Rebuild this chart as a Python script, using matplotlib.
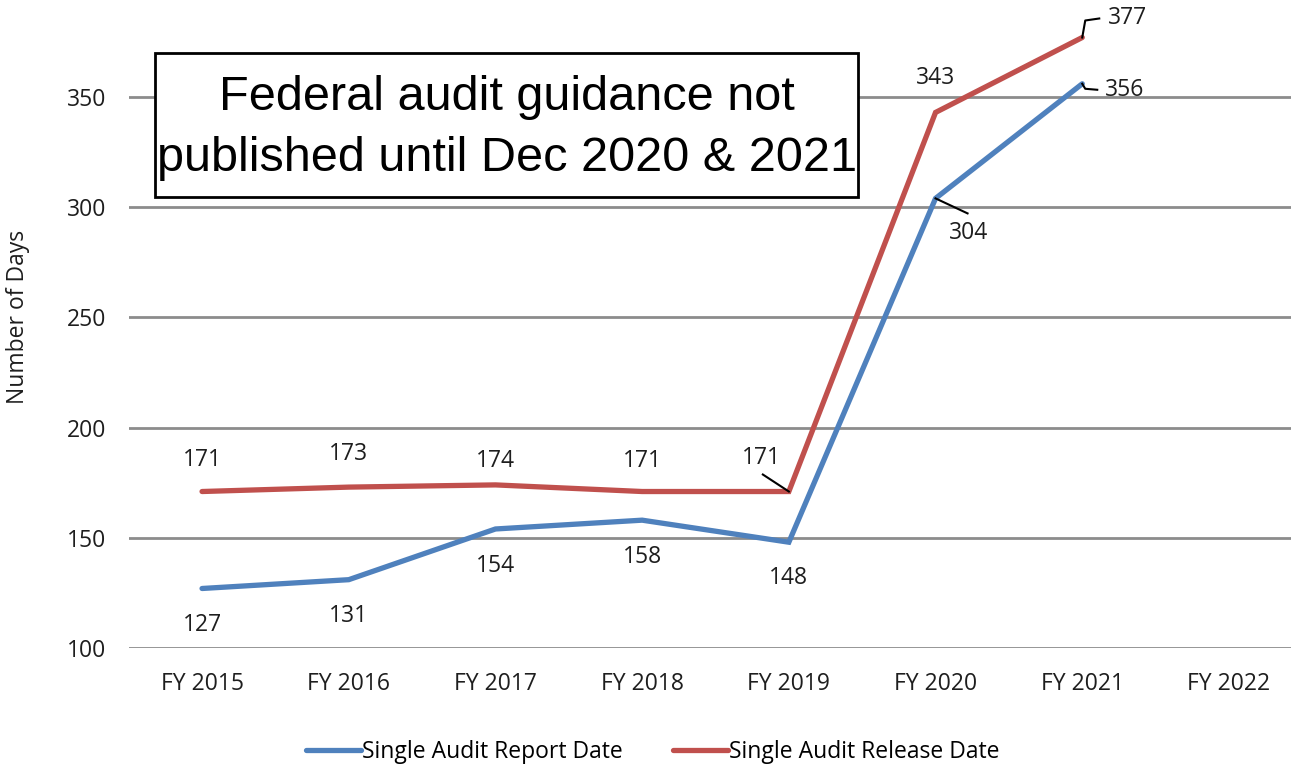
import matplotlib
matplotlib.use("Agg")
import matplotlib.pyplot as plt
from matplotlib.patches import Rectangle

years = ["FY 2015", "FY 2016", "FY 2017", "FY 2018", "FY 2019", "FY 2020", "FY 2021", "FY 2022"]
report_days = [127, 131, 154, 158, 148, 304, 356]
release_days = [171, 173, 174, 171, 171, 343, 377]

blue = "#4F81BD"
red = "#C0504D"
grid_col = "#8C8C8C"
txt = "#1E1E1E"
fs = 16.5

plt.rcParams["font.family"] = ["Open Sans", "DejaVu Sans"]

fig = plt.figure(figsize=(12.91, 7.68), dpi=100)
ax = fig.add_axes([128.7 / 1291, 120 / 768, 1173.6 / 1291, 661.2 / 768])

x = list(range(len(years)))
ax.plot(x[:len(report_days)], report_days, color=blue, lw=3.8, solid_capstyle="round",
        solid_joinstyle="miter", label="Single Audit Report Date", zorder=3)
ax.plot(x[:len(release_days)], release_days, color=red, lw=3.8, solid_capstyle="round",
        solid_joinstyle="miter", label="Single Audit Release Date", zorder=3)

ax.set_xlim(-0.5, 7.5)
ax.set_ylim(100, 400)
ax.set_yticks([100, 150, 200, 250, 300, 350])
ax.set_xticks(x)
ax.set_xticklabels(years)
ax.yaxis.grid(True, color=grid_col, lw=2)
ax.set_axisbelow(True)
for s in ax.spines.values():
    s.set_visible(False)
ax.tick_params(axis="both", length=0, labelsize=fs, colors=txt)
ax.tick_params(axis="x", pad=17)
ax.tick_params(axis="y", pad=16)
ax.set_ylabel("Number of Days", fontsize=fs, color=txt)
ax.yaxis.set_label_coords(-99 / 1173.6, 0.5)

# label offsets in pixels (dx, dy)
red_off = [(0, 32), (0, 33), (0, 24), (0, 31), (-27, 34), (0, 34), (45, 19)]
blue_off = [(0, -37), (0, -36), (0, -37), (0, -37), (0, -36), (33, -35), (42, -6)]

def label(i, v, off):
    ax.annotate(str(v), (i, v), xytext=off, textcoords="offset pixels",
                ha="center", va="center", fontsize=fs, color=txt, zorder=5)

for i, v in enumerate(release_days):
    label(i, v, red_off[i])
for i, v in enumerate(report_days):
    label(i, v, blue_off[i])

# leader lines
def leader(i, v, pts):
    tr = ax.transData
    px, py = tr.transform((i, v))
    inv = tr.inverted()
    d = [inv.transform((px + dx, py + dy)) for dx, dy in pts]
    ax.plot([p[0] for p in d], [p[1] for p in d], color="black", lw=1.5, zorder=4,
            clip_on=False)

leader(4, release_days[4], [(0, 0), (-26, 17)])
leader(5, report_days[5], [(0, 0), (32, -15)])
leader(6, release_days[6], [(0, 0), (3, 17), (17, 19)])
leader(6, report_days[6], [(0, 0), (3, -5), (15, -6)])

# note box
fig.patches.append(Rectangle((155 / 1291, 1 - 197 / 768), 703 / 1291, 144 / 768,
                             transform=fig.transFigure, fc="white", ec="black", lw=2, zorder=6))
fig.text(507 / 1291, 1 - 128 / 768, "Federal audit guidance not\npublished until Dec 2020 & 2021",
         ha="center", va="center", fontsize=35, family="Liberation Sans",
         linespacing=1.45, zorder=7)

fig.legend(loc="center", bbox_to_anchor=(653 / 1291, 1 - 752 / 768), ncol=2, frameon=False,
           fontsize=fs, handlelength=2.4, handletextpad=0.05, columnspacing=2.2)

fig.savefig("out.png", dpi=100)
